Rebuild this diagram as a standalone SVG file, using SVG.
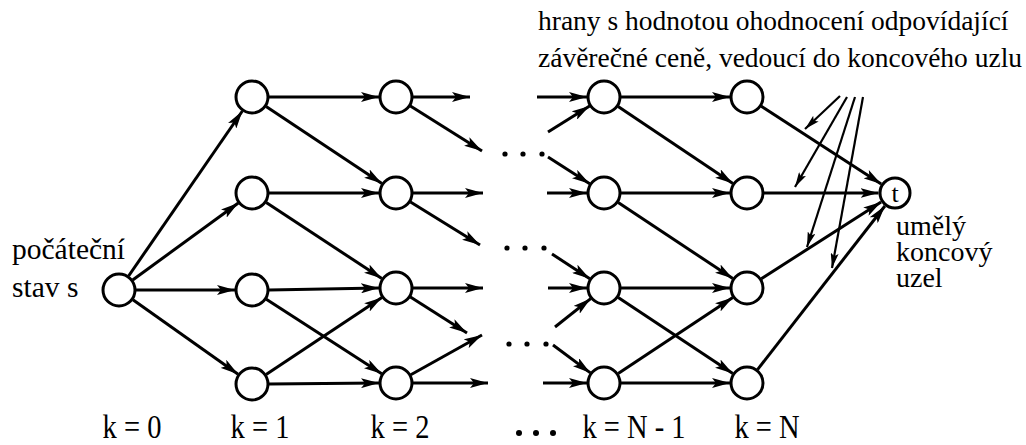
<svg xmlns="http://www.w3.org/2000/svg" width="1026" height="445" viewBox="0 0 1026 445">
<style>
.n{fill:#fff;stroke:#000;stroke-width:3}
.e{stroke:#000;stroke-width:3;fill:none;marker-end:url(#ah)}
.a{stroke:#000;stroke-width:2.2;fill:none;marker-end:url(#ah2)}
.d{fill:#000}
</style>
<defs>
<marker id="ah" markerUnits="userSpaceOnUse" markerWidth="18" markerHeight="10" viewBox="0 0 18 10" refX="18" refY="5" orient="auto">
<path d="M0,0 L18,5 L0,10 L4,5 z" fill="#000"/>
</marker>
<marker id="ah2" markerUnits="userSpaceOnUse" markerWidth="15" markerHeight="8" viewBox="0 0 15 8" refX="15" refY="4" orient="auto">
<path d="M0,0 L15,4 L0,8 L3,4 z" fill="#000"/>
</marker>
</defs>
<rect width="1026" height="445" fill="#fff"/>
<g id="connectors">
<line class="e" x1="128.6" y1="276" x2="242.4" y2="111"/>
<line class="e" x1="132.7" y1="280" x2="238.3" y2="203"/>
<line class="e" x1="136" y1="290" x2="235" y2="290"/>
<line class="e" x1="132.9" y1="299.8" x2="238.1" y2="374.2"/>
<line class="e" x1="269" y1="97" x2="379" y2="97"/>
<line class="e" x1="266.1" y1="106.4" x2="381.9" y2="183.6"/>
<line class="e" x1="269" y1="193" x2="379" y2="193"/>
<line class="e" x1="266.2" y1="202.4" x2="381.8" y2="278.6"/>
<line class="e" x1="269" y1="290" x2="379" y2="288"/>
<line class="e" x1="266.3" y1="299.2" x2="381.7" y2="373.8"/>
<line class="e" x1="269" y1="384" x2="379" y2="383"/>
<line class="e" x1="266.1" y1="374.6" x2="381.9" y2="297.4"/>
<line class="e" x1="413" y1="97" x2="470" y2="97"/>
<line class="e" x1="410.4" y1="106" x2="482" y2="151"/>
<line class="e" x1="413" y1="193" x2="483" y2="193"/>
<line class="e" x1="410.5" y1="201.9" x2="480" y2="245"/>
<line class="e" x1="413" y1="288" x2="483" y2="288"/>
<line class="e" x1="410.4" y1="297.1" x2="467" y2="333"/>
<line class="e" x1="413" y1="383" x2="488" y2="383"/>
<line class="e" x1="410.8" y1="374.7" x2="482" y2="335"/>
<line class="e" x1="537" y1="97" x2="587" y2="97"/>
<line class="e" x1="548" y1="132" x2="589.6" y2="106"/>
<line class="e" x1="548" y1="157" x2="589.7" y2="183.8"/>
<line class="e" x1="547" y1="193" x2="587" y2="193"/>
<line class="e" x1="552" y1="254" x2="589.8" y2="278.7"/>
<line class="e" x1="548" y1="288" x2="587" y2="288"/>
<line class="e" x1="555" y1="327" x2="590.7" y2="298.6"/>
<line class="e" x1="553" y1="345" x2="590.4" y2="372.9"/>
<line class="e" x1="543" y1="383" x2="587" y2="383"/>
<line class="e" x1="621" y1="97" x2="730" y2="97"/>
<line class="e" x1="618.1" y1="106.5" x2="732.9" y2="183.5"/>
<line class="e" x1="621" y1="193" x2="730" y2="193"/>
<line class="e" x1="618.2" y1="202.4" x2="732.8" y2="278.6"/>
<line class="e" x1="621" y1="288" x2="730" y2="288"/>
<line class="e" x1="618.2" y1="297.4" x2="732.8" y2="373.6"/>
<line class="e" x1="621" y1="383" x2="730" y2="383"/>
<line class="e" x1="618.2" y1="373.6" x2="732.8" y2="297.4"/>
<line class="e" x1="761.3" y1="106.3" x2="881.2" y2="184"/>
<line class="e" x1="764" y1="193" x2="878.5" y2="193"/>
<line class="e" x1="761.3" y1="278.8" x2="881.1" y2="201.9"/>
<line class="e" x1="757.5" y1="369.6" x2="884.9" y2="206"/>
<line class="a" x1="840" y1="96" x2="805" y2="129"/>
<line class="a" x1="847" y1="97" x2="795" y2="187"/>
<line class="a" x1="855" y1="97" x2="807" y2="247"/>
<line class="a" x1="863" y1="97" x2="832" y2="268"/>
</g>
<g id="dots">
<circle class="d" cx="505" cy="154" r="2.6"/><circle class="d" cx="523" cy="154" r="2.6"/><circle class="d" cx="542" cy="154" r="2.6"/>
<circle class="d" cx="507" cy="248" r="2.6"/><circle class="d" cx="525" cy="248" r="2.6"/><circle class="d" cx="544" cy="248" r="2.6"/>
<circle class="d" cx="509" cy="344" r="2.6"/><circle class="d" cx="527" cy="344" r="2.6"/><circle class="d" cx="546" cy="344" r="2.6"/>
</g>
<g id="node-s"><circle class="n" cx="119" cy="290" r="16"/></g>
<g id="node-1a"><circle class="n" cx="252" cy="97" r="16"/></g>
<g id="node-1b"><circle class="n" cx="252" cy="193" r="16"/></g>
<g id="node-1c"><circle class="n" cx="252" cy="290" r="16"/></g>
<g id="node-1d"><circle class="n" cx="252" cy="384" r="16"/></g>
<g id="node-2a"><circle class="n" cx="396" cy="97" r="16"/></g>
<g id="node-2b"><circle class="n" cx="396" cy="193" r="16"/></g>
<g id="node-2c"><circle class="n" cx="396" cy="288" r="16"/></g>
<g id="node-2d"><circle class="n" cx="396" cy="383" r="16"/></g>
<g id="node-N1a"><circle class="n" cx="604" cy="97" r="16"/></g>
<g id="node-N1b"><circle class="n" cx="604" cy="193" r="16"/></g>
<g id="node-N1c"><circle class="n" cx="604" cy="288" r="16"/></g>
<g id="node-N1d"><circle class="n" cx="604" cy="383" r="16"/></g>
<g id="node-Na"><circle class="n" cx="747" cy="97" r="16"/></g>
<g id="node-Nb"><circle class="n" cx="747" cy="193" r="16"/></g>
<g id="node-Nc"><circle class="n" cx="747" cy="288" r="16"/></g>
<g id="node-Nd"><circle class="n" cx="747" cy="383" r="16"/></g>
<g id="node-t"><circle class="n" cx="895" cy="193" r="15"/><text font-family="Liberation Serif" x="895" y="202" font-size="26" text-anchor="middle" fill="#000">t</text></g>
<g id="labels" fill="#000">
<text font-family="Liberation Serif" x="538" y="30" font-size="27.5">hrany s hodnotou ohodnocení odpovídající</text>
<text font-family="Liberation Serif" x="538" y="67" font-size="27.5">závěrečné ceně, vedoucí do koncového uzlu</text>
<text font-family="Liberation Serif" x="12" y="259" font-size="29.5">počáteční</text>
<text font-family="Liberation Serif" x="12" y="297" font-size="29.5">stav s</text>
<text font-family="Liberation Serif" x="896" y="235" font-size="28">umělý</text>
<text font-family="Liberation Serif" x="896" y="261" font-size="28">koncový</text>
<text font-family="Liberation Serif" x="896" y="287" font-size="28">uzel</text>
<text font-family="Liberation Serif" transform="translate(132,438) scale(1,1.15)" font-size="28.5" text-anchor="middle">k = 0</text>
<text font-family="Liberation Serif" transform="translate(260,438) scale(1,1.15)" font-size="28.5" text-anchor="middle">k = 1</text>
<text font-family="Liberation Serif" transform="translate(400,438) scale(1,1.15)" font-size="28.5" text-anchor="middle">k = 2</text>
<circle class="d" cx="519" cy="433" r="3"/><circle class="d" cx="536" cy="433" r="3"/><circle class="d" cx="553" cy="433" r="3"/>
<text font-family="Liberation Serif" transform="translate(634,438) scale(1,1.15)" font-size="28.5" text-anchor="middle">k = N - 1</text>
<text font-family="Liberation Serif" transform="translate(767,438) scale(1,1.15)" font-size="28.5" text-anchor="middle">k = N</text>
</g>
</svg>
